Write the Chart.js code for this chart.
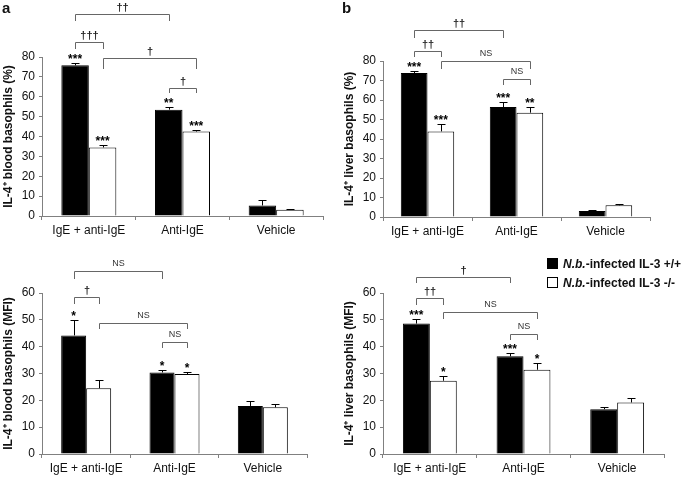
<!DOCTYPE html>
<html>
<head>
<meta charset="utf-8">
<script src="https://cdn.jsdelivr.net/npm/chart.js@4.4.0/dist/chart.umd.min.js"></script>
<style>
body{margin:0;background:#fff;font-family:"Liberation Sans",Arial,sans-serif;}
#fig{position:relative;width:685px;height:478px;overflow:hidden;}
#fig canvas{position:absolute;}
.letter{position:absolute;font-weight:bold;font-size:15px;line-height:15px;color:#111;}
.legend{position:absolute;left:547px;font-size:12px;font-weight:bold;line-height:12px;color:#111;white-space:nowrap;}
.legend .box{display:inline-block;width:11px;height:11px;box-sizing:border-box;border:1px solid #000;margin-right:5px;vertical-align:-1px;}
</style>
</head>
<body>
<div id="fig">
  <canvas id="chart_a" width="342" height="240" style="left:0;top:0"></canvas>
  <canvas id="chart_b" width="344" height="240" style="left:341px;top:0"></canvas>
  <canvas id="chart_c" width="342" height="238" style="left:0;top:240px"></canvas>
  <canvas id="chart_d" width="344" height="238" style="left:341px;top:240px"></canvas>
  <div class="letter" style="left:2px;top:0">a</div>
  <div class="letter" style="left:342px;top:0">b</div>
  <div class="legend" style="top:258px"><span class="box" style="background:#000"></span><i>N.b.</i>-infected IL-3 +/+</div>
  <div class="legend" style="top:277px"><span class="box" style="background:#fff"></span><i>N.b.</i>-infected IL-3 -/-</div>
</div>
<script>
const FONT = '"Liberation Sans", Arial, sans-serif';

const categories = ['IgE + anti-IgE', 'Anti-IgE', 'Vehicle'];
const seriesNames = ['N.b.-infected IL-3 +/+', 'N.b.-infected IL-3 -/-'];

// a : blood basophils (%)
const bloodPctWT = [75.8, 53.5, 5.3];
const bloodPctWTErr = [1.2, 1.5, 2.5];
const bloodPctKO = [34.5, 42.5, 3.2];
const bloodPctKOErr = [1.2, 1.0, 0.5];
const bloodPctWTStars = ['***', '**', ''];
const bloodPctKOStars = ['***', '***', ''];

// b : liver basophils (%)
const liverPctWT = [73.8, 56.4, 3.1];
const liverPctWTErr = [1.1, 2.6, 0.7];
const liverPctKO = [43.9, 53.5, 6.0];
const liverPctKOErr = [4.0, 2.9, 0.8];
const liverPctWTStars = ['***', '***', ''];
const liverPctKOStars = ['***', '**', ''];

// c : blood basophils (MFI)
const bloodMfiWT = [44.2, 30.4, 17.9];
const bloodMfiWTErr = [5.8, 1.0, 1.9];
const bloodMfiKO = [24.5, 29.8, 17.4];
const bloodMfiKOErr = [3.1, 0.8, 1.3];
const bloodMfiWTStars = ['*', '*', ''];
const bloodMfiKOStars = ['', '*', ''];

// d : liver basophils (MFI)
const liverMfiWT = [48.6, 36.4, 16.7];
const liverMfiWTErr = [1.8, 1.2, 1.0];
const liverMfiKO = [27.3, 31.4, 19.2];
const liverMfiKOErr = [1.6, 2.5, 1.7];
const liverMfiWTStars = ['***', '***', ''];
const liverMfiKOStars = ['*', '*', ''];

// comparisons: [dataset, index, dataset, index, line level, end of drop, label]
const bloodPctBrackets = [
    [0, 0, 0, 1, 101.7, 98.3, '††'],
    [0, 0, 1, 0, 87.5, 84, '†††'],
    [1, 0, 1, 1, 79.5, 74, '†'],
    [0, 1, 1, 1, 64.5, 61.7, '†']
];
const liverPctBrackets = [
    [0, 0, 0, 1, 95.7, 92, '††'],
    [0, 0, 1, 0, 85.1, 82, '††'],
    [1, 0, 1, 1, 80, 76, 'NS'],
    [0, 1, 1, 1, 70.6, 67.5, 'NS']
];
const bloodMfiBrackets = [
    [0, 0, 0, 1, 68.1, 65.4, 'NS'],
    [0, 0, 1, 0, 58.4, 56, '†'],
    [1, 0, 1, 1, 48.8, 46.6, 'NS'],
    [0, 1, 1, 1, 41.7, 39.5, 'NS']
];
const liverMfiBrackets = [
    [0, 0, 0, 1, 65.9, 63.8, '†'],
    [0, 0, 1, 0, 58.2, 55.7, '††'],
    [1, 0, 1, 1, 52.8, 50.3, 'NS'],
    [0, 1, 1, 1, 44.7, 42.6, 'NS']
];

// error bars, stars and significance brackets
function sigPlugin(brackets) {
    return {
        id: 'sig',
        afterDatasetsDraw(chart) {
            const ctx = chart.ctx;
            const y = chart.scales.y;
            ctx.save();
            ctx.lineWidth = 1;
            chart.data.datasets.forEach((ds, di) => {
                chart.getDatasetMeta(di).data.forEach((bar, i) => {
                    const cx = Math.round(bar.x) + 0.5;
                    const top = Math.round(y.getPixelForValue(ds.data[i] + ds.errors[i])) + 0.5;
                    ctx.strokeStyle = '#000';
                    ctx.beginPath();
                    ctx.moveTo(cx, bar.y);
                    ctx.lineTo(cx, top);
                    ctx.moveTo(cx - 4, top);
                    ctx.lineTo(cx + 4, top);
                    ctx.stroke();
                    if (ds.stars[i]) {
                        ctx.fillStyle = '#000';
                        ctx.font = 'bold 12px ' + FONT;
                        ctx.textAlign = 'center';
                        ctx.textBaseline = 'alphabetic';
                        ctx.fillText(ds.stars[i], bar.x, top - 1);
                    }
                });
            });
            brackets.forEach(b => {
                const x1 = Math.round(chart.getDatasetMeta(b[0]).data[b[1]].x) + 0.5;
                const x2 = Math.round(chart.getDatasetMeta(b[2]).data[b[3]].x) + 0.5;
                const yl = Math.round(y.getPixelForValue(b[4])) + 0.5;
                const yb = Math.round(y.getPixelForValue(b[5]));
                ctx.strokeStyle = '#666';
                ctx.beginPath();
                ctx.moveTo(x1, yb);
                ctx.lineTo(x1, yl);
                ctx.lineTo(x2, yl);
                ctx.lineTo(x2, yb);
                ctx.stroke();
                ctx.fillStyle = b[6] == 'NS' ? '#333' : '#222';
                ctx.font = (b[6] == 'NS' ? '9px ' : 'bold 11px ') + FONT;
                ctx.textAlign = 'center';
                ctx.textBaseline = 'bottom';
                ctx.fillText(b[6], (x1 + x2) / 2, yl - (b[6] == 'NS' ? 3 : 1));
            });
            ctx.restore();
        }
    };
}

function makeChart(id, p) {
    return new Chart(document.getElementById(id).getContext('2d'), {
        type: 'bar',
        data: {
            labels: categories,
            datasets: [{
                    label: seriesNames[0],
                    data: p.wt,
                    errors: p.wtErr,
                    stars: p.wtStars,
                    backgroundColor: '#000',
                    borderColor: '#000',
                    borderWidth: 1,
                    barPercentage: 1,
                    categoryPercentage: p.cat
                },
                {
                    label: seriesNames[1],
                    data: p.ko,
                    errors: p.koErr,
                    stars: p.koStars,
                    backgroundColor: '#fff',
                    borderColor: '#000',
                    borderWidth: 1,
                    barPercentage: 1,
                    categoryPercentage: p.cat
                }
            ]
        },
        plugins: [sigPlugin(p.brackets)],
        options: {
            responsive: false,
            animation: false,
            devicePixelRatio: 1,
            layout: {padding: {top: p.top, right: p.right, left: 0, bottom: 0}},
            plugins: {legend: {display: false}, tooltip: {enabled: false}},
            scales: {
                x: {
                    grid: {drawOnChartArea: false, tickLength: 4, color: '#808080', offset: true},
                    border: {color: '#808080'},
                    ticks: {font: {family: FONT, size: 12}, color: '#111', maxRotation: 0, autoSkip: false, padding: 3},
                    afterFit: s => { s.height = p.xh; }
                },
                y: {
                    min: 0,
                    max: p.max,
                    ticks: {stepSize: 10, font: {family: FONT, size: 12}, color: '#111', padding: 4},
                    grid: {drawOnChartArea: false, tickLength: 3, color: '#808080'},
                    border: {color: '#808080'},
                    title: {display: true, text: p.title, color: '#111', font: {family: FONT, size: 12, weight: 'bold'}, padding: {top: 1, bottom: 0}},
                    afterFit: s => { s.width = 42; }
                }
            }
        }
    });
}

makeChart('chart_a', {
    wt: bloodPctWT, wtErr: bloodPctWTErr, wtStars: bloodPctWTStars,
    ko: bloodPctKO, koErr: bloodPctKOErr, koStars: bloodPctKOStars,
    brackets: bloodPctBrackets, title: 'IL-4⁺ blood basophils (%)',
    max: 80, cat: 0.587, top: 57, right: 19, xh: 24
});
makeChart('chart_b', {
    wt: liverPctWT, wtErr: liverPctWTErr, wtStars: liverPctWTStars,
    ko: liverPctKO, koErr: liverPctKOErr, koStars: liverPctKOStars,
    brackets: liverPctBrackets, title: 'IL-4⁺ liver basophils (%)',
    max: 80, cat: 0.6, top: 61, right: 35, xh: 23
});
makeChart('chart_c', {
    wt: bloodMfiWT, wtErr: bloodMfiWTErr, wtStars: bloodMfiWTStars,
    ko: bloodMfiKO, koErr: bloodMfiKOErr, koStars: bloodMfiKOStars,
    brackets: bloodMfiBrackets, title: 'IL-4⁺ blood basophils (MFI)',
    max: 60, cat: 0.566, top: 53, right: 35, xh: 24
});
makeChart('chart_d', {
    wt: liverMfiWT, wtErr: liverMfiWTErr, wtStars: liverMfiWTStars,
    ko: liverMfiKO, koErr: liverMfiKOErr, koStars: liverMfiKOStars,
    brackets: liverMfiBrackets, title: 'IL-4⁺ liver basophils (MFI)',
    max: 60, cat: 0.575, top: 53, right: 21, xh: 24
});
</script>
</body>
</html>
